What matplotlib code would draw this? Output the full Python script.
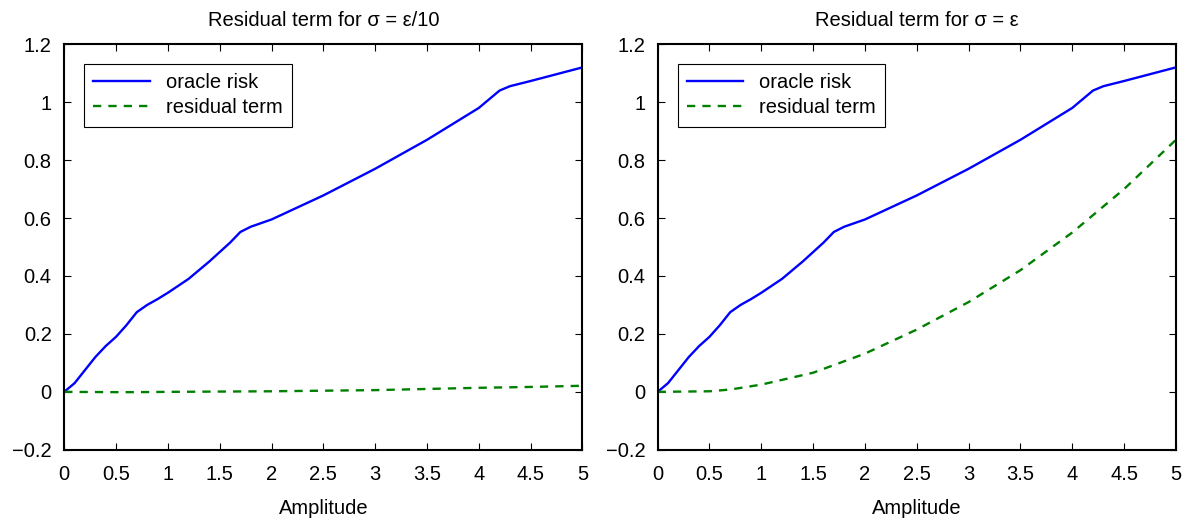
import matplotlib
matplotlib.use('Agg')
import matplotlib.pyplot as plt
from matplotlib.ticker import FuncFormatter

plt.rcParams['font.family'] = ['Liberation Sans', 'DejaVu Sans']

# oracle risk (same in both panels)
amp = [0, 0.1, 0.2, 0.3, 0.4, 0.5, 0.6, 0.7, 0.8, 0.9, 1.0, 1.2, 1.4, 1.6, 1.7, 1.8,
       2.0, 2.5, 3.0, 3.5, 4.0, 4.2, 4.3, 4.5, 5.0]
oracle = [0, 0.03, 0.075, 0.12, 0.158, 0.19, 0.23, 0.275, 0.30, 0.32, 0.342, 0.39, 0.45,
          0.515, 0.552, 0.57, 0.595, 0.678, 0.77, 0.87, 0.98, 1.04, 1.055, 1.073, 1.12]

# residual terms
amp_res = [0, 0.5, 0.7, 1.0, 1.5, 2.0, 2.5, 3.0, 3.5, 4.0, 4.5, 5.0]
resid_small = [0, -0.001, -0.001, 0.0, 0.001, 0.002, 0.004, 0.006, 0.01, 0.014, 0.017, 0.021]
resid_big = [0, 0.002, 0.008, 0.025, 0.066, 0.132, 0.215, 0.31, 0.42, 0.55, 0.70, 0.87]

titles = ['Residual term for σ = ε/10', 'Residual term for σ = ε']
residuals = [resid_small, resid_big]

fmt = FuncFormatter(lambda v, p: ('%g' % round(v, 3)).replace('-', '\u2212'))

fig, axes = plt.subplots(1, 2, figsize=(11.89, 5.2), dpi=100)
fig.subplots_adjust(left=0.054, right=0.989, top=0.915, bottom=0.135, wspace=0.145)

for ax, title, res in zip(axes, titles, residuals):
    ax.plot(amp, oracle, color='#0000ff', lw=1.7, label='oracle risk')
    ax.plot(amp_res, res, color='#008000', lw=1.7, ls=(0, (3.5, 3)), label='residual term')
    ax.set_xlim(0, 5)
    ax.set_ylim(-0.2, 1.2)
    ax.set_xticks([0, 0.5, 1, 1.5, 2, 2.5, 3, 3.5, 4, 4.5, 5])
    ax.set_yticks([-0.2, 0, 0.2, 0.4, 0.6, 0.8, 1, 1.2])
    ax.xaxis.set_major_formatter(fmt)
    ax.yaxis.set_major_formatter(fmt)
    ax.tick_params(direction='in', top=True, right=True, labelsize=14.5, length=5, pad=9)
    ax.tick_params(axis='x', pad=11)
    for s in ax.spines.values():
        s.set_linewidth(1.5)
    ax.set_title(title, fontsize=14.5, pad=13)
    ax.set_xlabel('Amplitude', fontsize=14.5, labelpad=11)
    leg = ax.legend(loc='upper left', fontsize=14.5, fancybox=False, edgecolor='black',
                    framealpha=1, borderaxespad=1.0, handlelength=2.8, labelspacing=0.3,
                    borderpad=0.45)
    leg.get_frame().set_linewidth(0.8)

fig.savefig('out.png', dpi=100)
